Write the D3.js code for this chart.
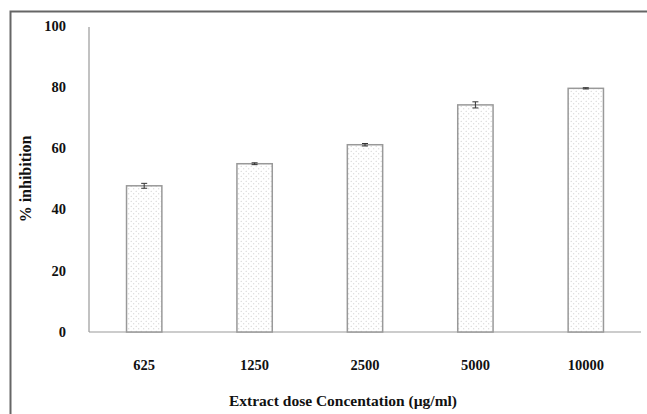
<html>
  <head>
    <meta charset="utf-8" />
    <title>% inhibition</title>
    <style>
      body { margin: 0; background: #fff; }
      text { font-family: "Liberation Serif", "Times New Roman", serif; font-weight: bold; }
    </style>
  </head>
  <body>
    <script src="https://cdn.jsdelivr.net/npm/d3@7/dist/d3.min.js" charset="utf-8"></script>
    <script>
      const doses = ["625", "1250", "2500", "5000", "10000"];
      const inhibition = [47.7, 54.9, 61.1, 74.1, 79.5];
      const errors = [0.8, 0.3, 0.4, 1.0, 0.2];
      const yTicks = [0, 20, 40, 60, 80, 100];

      const width = 647;
      const height = 414;
      const plotLeft = 89, plotRight = 641, plotTop = 25.5, plotBottom = 332;

      let svg = d3
        .select("body")
        .append("svg")
        .attr("width", width)
        .attr("height", height);

      // dotted fill
      let pat = svg
        .append("defs")
        .append("pattern")
        .attr("id", "dots")
        .attr("patternUnits", "userSpaceOnUse")
        .attr("width", 5)
        .attr("height", 5);
      pat.append("rect").attr("width", 5).attr("height", 5).attr("fill", "#fff");
      pat.append("circle").attr("cx", 1.2).attr("cy", 1.2).attr("r", 0.55).attr("fill", "#c4c4c4");
      pat.append("circle").attr("cx", 3.7).attr("cy", 3.7).attr("r", 0.55).attr("fill", "#c4c4c4");

      // outer frame (cropped at right and bottom)
      svg
        .append("path")
        .attr("d", `M10.5,${height} V11.5 H${width}`)
        .attr("fill", "none")
        .attr("stroke", "#666")
        .attr("stroke-width", 2);

      let x = d3.scaleBand()
        .domain(doses)
        .range([plotLeft, plotRight])
        .paddingInner(0.68)
        .paddingOuter(0.34);
      let y = d3.scaleLinear().domain([0, 100]).range([plotBottom, plotTop]);

      // axis lines
      svg.append("line")
        .attr("x1", plotLeft).attr("x2", plotLeft)
        .attr("y1", 27).attr("y2", plotBottom)
        .attr("stroke", "#999").attr("stroke-width", 1.2);
      svg.append("line")
        .attr("x1", plotLeft).attr("x2", plotRight)
        .attr("y1", plotBottom).attr("y2", plotBottom)
        .attr("stroke", "#999").attr("stroke-width", 1.2);

      // bars
      svg.selectAll(".bar")
        .data(doses)
        .enter()
        .append("rect")
        .attr("class", "bar")
        .attr("x", d => x(d))
        .attr("y", (d, i) => y(inhibition[i]))
        .attr("width", x.bandwidth())
        .attr("height", (d, i) => plotBottom - y(inhibition[i]))
        .attr("fill", "url(#dots)")
        .attr("stroke", "#999")
        .attr("stroke-width", 1.5);

      // error bars
      let eb = svg.selectAll(".err")
        .data(doses)
        .enter()
        .append("g")
        .attr("class", "err")
        .attr("stroke", "#333")
        .attr("stroke-width", 1);
      eb.append("line")
        .attr("x1", d => x(d) + x.bandwidth() / 2)
        .attr("x2", d => x(d) + x.bandwidth() / 2)
        .attr("y1", (d, i) => y(inhibition[i] + errors[i]))
        .attr("y2", (d, i) => y(inhibition[i] - errors[i]));
      eb.append("line")
        .attr("x1", d => x(d) + x.bandwidth() / 2 - 3)
        .attr("x2", d => x(d) + x.bandwidth() / 2 + 3)
        .attr("y1", (d, i) => y(inhibition[i] + errors[i]))
        .attr("y2", (d, i) => y(inhibition[i] + errors[i]));
      eb.append("line")
        .attr("x1", d => x(d) + x.bandwidth() / 2 - 3)
        .attr("x2", d => x(d) + x.bandwidth() / 2 + 3)
        .attr("y1", (d, i) => y(inhibition[i] - errors[i]))
        .attr("y2", (d, i) => y(inhibition[i] - errors[i]));

      // y tick labels
      svg.selectAll(".ytick")
        .data(yTicks)
        .enter()
        .append("text")
        .attr("x", 66)
        .attr("y", d => y(d))
        .attr("dy", "0.35em")
        .attr("text-anchor", "end")
        .attr("font-size", 14.5)
        .attr("fill", "#111")
        .text(d => d);

      // x tick labels
      svg.selectAll(".xtick")
        .data(doses)
        .enter()
        .append("text")
        .attr("x", d => x(d) + x.bandwidth() / 2)
        .attr("y", 370)
        .attr("text-anchor", "middle")
        .attr("font-size", 14.5)
        .attr("fill", "#111")
        .text(d => d);

      svg.append("text")
        .attr("x", 343)
        .attr("y", 406)
        .attr("text-anchor", "middle")
        .attr("font-size", 15.5)
        .attr("fill", "#111")
        .text("Extract dose Concentation (µg/ml)");

      svg.append("text")
        .attr("transform", "translate(31,179) rotate(-90)")
        .attr("text-anchor", "middle")
        .attr("font-size", 16)
        .attr("fill", "#111")
        .text("% inhibition");
    </script>
  </body>
</html>
